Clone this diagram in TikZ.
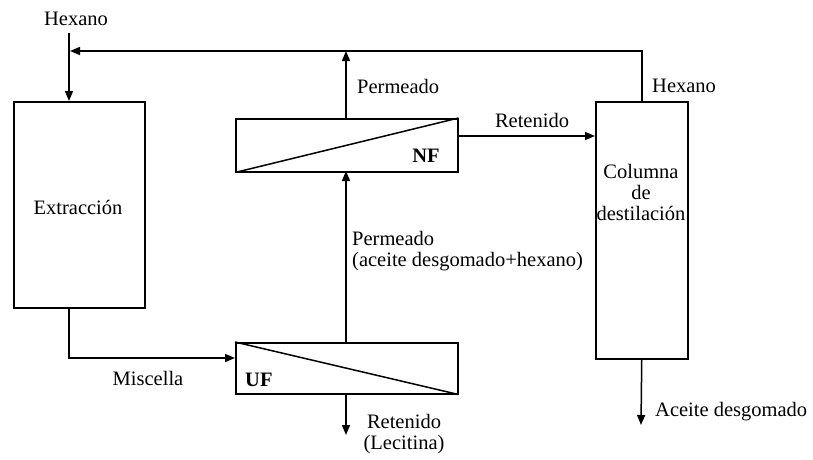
\documentclass[tikz,border=0pt]{standalone}
\usepackage{fontspec}
\setmainfont{Liberation Serif}
\usetikzlibrary{arrows.meta}
\begin{document}
\begin{tikzpicture}[x=1pt,y=-1pt,
  unit/.style={draw,line width=1.5pt,inner sep=0pt,anchor=north west},
  flow/.style={line width=1.5pt,-{Triangle[length=10pt,width=8pt]}},
  pipe/.style={line width=1.5pt},
  lbl/.style={inner sep=0pt,font=\fontsize{20.5}{21}\selectfont},
  lbll/.style={lbl,anchor=west},
  tag/.style={lbl,font=\fontsize{20.5}{21}\bfseries\selectfont}]
\useasboundingbox (0,0) rectangle (813,459);

% process units
\node[unit,minimum width=131pt,minimum height=206pt] (ext) at (13,101) {};
\node[unit,minimum width=222pt,minimum height=53pt] (nf) at (235,118) {};
\node[unit,minimum width=222pt,minimum height=51pt] (uf) at (235,342) {};
\node[unit,minimum width=92pt,minimum height=257pt] (col) at (595,101) {};

% membrane lines
\draw[pipe] (nf.south west) -- (nf.north east);
\draw[pipe] (uf.north west) -- (uf.south east);

% text inside units
\node[lbl] (tExt) at (78,207) {Extracción};
\node[lbl,align=center] (tCol) at (641,192) {Columna\\de\\destilación};
\node[tag] (tNF) at (426,156) {NF};
\node[tag,anchor=west] (tUF) at (245,380) {UF};

% fresh hexane feed
\coordinate (hexIn) at (69,33);
\node[lbl] (tHex1) at (76,19) {Hexano};
\draw[flow] (hexIn) -- (hexIn |- ext.north);

% hexane recycle from column top
\coordinate (colTop) at (642,101);
\coordinate (recR) at (642,51);
\coordinate (recL) at (70,51);
\draw[flow] (colTop) -- (recR) -- (recL);
\node[lbll] (tHex2) at (652,86) {Hexano};

% NF permeate joins recycle line
\coordinate (nfTop) at (346,118);
\draw[flow] (nfTop) -- (346,51);
\node[lbll] (tPerm1) at (357,86) {Permeado};

% NF retentate to column
\coordinate (nfR) at (457,136);
\draw[flow] (nfR) -- (nfR -| col.west);
\node[lbl] (tRet1) at (532,120) {Retenido};

% miscella to UF
\coordinate (extB) at (69,307);
\coordinate (mBend) at (69,358);
\draw[flow] (extB) -- (mBend) -- (mBend -| uf.west);
\node[lbl] (tMis) at (148,378) {Miscella};

% UF permeate to NF
\draw[flow] (346,342) -- (346,171);
\node[lbll,align=left] (tPerm2) at (352,251) {Permeado\\(aceite desgomado+hexano)};

% UF retentate
\coordinate (ufOut) at (346,435);
\draw[flow] (346,393) -- (ufOut);
\node[lbl,align=center] (tRet2) at (404,434) {Retenido\\(Lecitina)};

% column bottoms
\coordinate (colOut) at (641,425);
\draw[flow] (col.south) -- (colOut);
\node[lbll] (tOil) at (655,412) {Aceite desgomado};
\end{tikzpicture}
\end{document}
